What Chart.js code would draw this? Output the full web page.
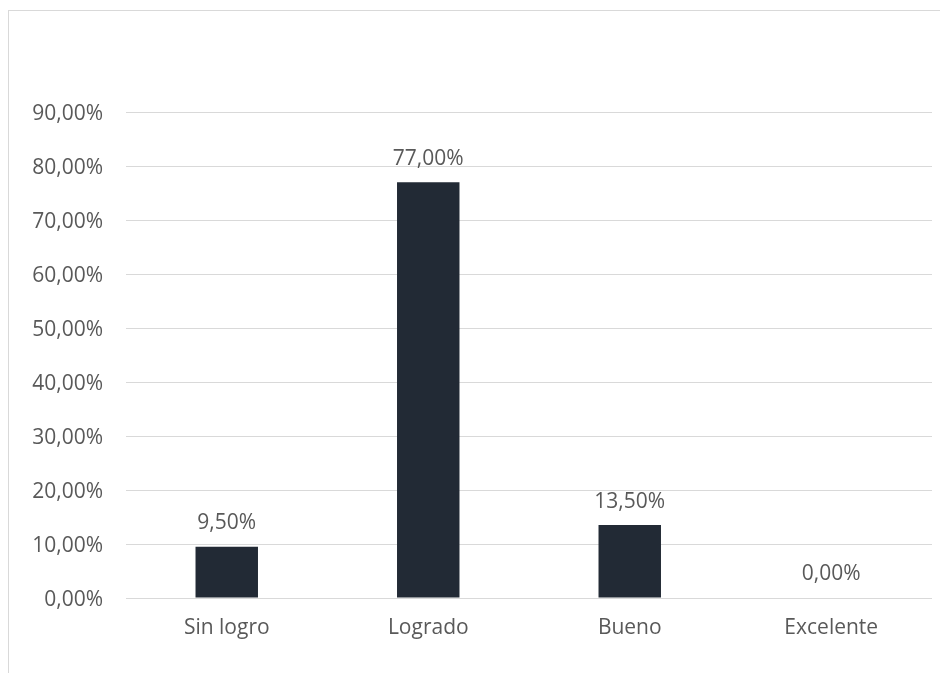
<!DOCTYPE html>
<html>
<head>
<meta charset="utf-8">
<script src="https://cdn.jsdelivr.net/npm/chart.js@4/dist/chart.umd.min.js"></script>
<style>
  html, body { margin: 0; padding: 0; background: #fff; overflow: hidden; }
  #wrap { position: relative; width: 940px; height: 673px; }
  #frame { position: absolute; left: 8px; top: 10px; width: 960px; height: 700px;
           border: 1px solid #d9d9d9; box-sizing: border-box; pointer-events: none; }
  canvas { position: absolute; left: 0; top: 0; }
</style>
</head>
<body>
<div id="wrap">
  <div id="frame"></div>
  <canvas id="chart" width="940" height="673"></canvas>
</div>
<script>
// Categories and their percentage values
const categories = ['Sin logro', 'Logrado', 'Bueno', 'Excelente'];
const values = [9.5, 77.0, 13.5, 0.0];
// Y axis range and step, in percent
const yMin = 0;
const yMax = 90;
const yStep = 10;

const textColor = '#595959';
const barColor = '#222a35';
const gridColor = '#d9d9d9';
const fontFamily = '"Open Sans", "Noto Sans", sans-serif';

function pct(v) {
  return v.toFixed(2).replace('.', ',') + '%';
}

// Writes each bar's value above it
const valueLabels = {
  id: 'valueLabels',
  afterDatasetsDraw(chart) {
    const ctx = chart.ctx;
    const meta = chart.getDatasetMeta(0);
    ctx.save();
    ctx.fillStyle = textColor;
    ctx.font = '21px ' + fontFamily;
    ctx.textAlign = 'center';
    ctx.textBaseline = 'bottom';
    meta.data.forEach((bar, i) => {
      ctx.fillText(pct(values[i]), bar.x, bar.y - 13);
    });
    ctx.restore();
  }
};

new Chart(document.getElementById('chart'), {
  type: 'bar',
  data: {
    labels: categories,
    datasets: [{
      data: values,
      backgroundColor: barColor,
      borderWidth: 0,
      categoryPercentage: 1.0,
      barPercentage: 0.31
    }]
  },
  options: {
    responsive: false,
    animation: false,
    devicePixelRatio: 1,
    layout: { padding: { top: 112, right: 8, bottom: 0, left: 0 } },
    plugins: {
      legend: { display: false },
      tooltip: { enabled: false }
    },
    scales: {
      x: {
        grid: { display: false, drawTicks: false },
        border: { display: false },
        ticks: {
          color: textColor,
          font: { family: fontFamily, size: 21 },
          padding: 17,
          maxRotation: 0
        },
        afterFit(scale) { scale.height = 75; }
      },
      y: {
        min: yMin,
        max: yMax,
        grid: { color: gridColor, lineWidth: 1, drawTicks: false },
        border: { display: false },
        ticks: {
          stepSize: yStep,
          color: textColor,
          font: { family: fontFamily, size: 21 },
          padding: 23,
          labelOffset: 2,
          callback: (v) => pct(v)
        },
        afterFit(scale) { scale.width = 126; }
      }
    }
  },
  plugins: [valueLabels]
});
</script>
</body>
</html>
